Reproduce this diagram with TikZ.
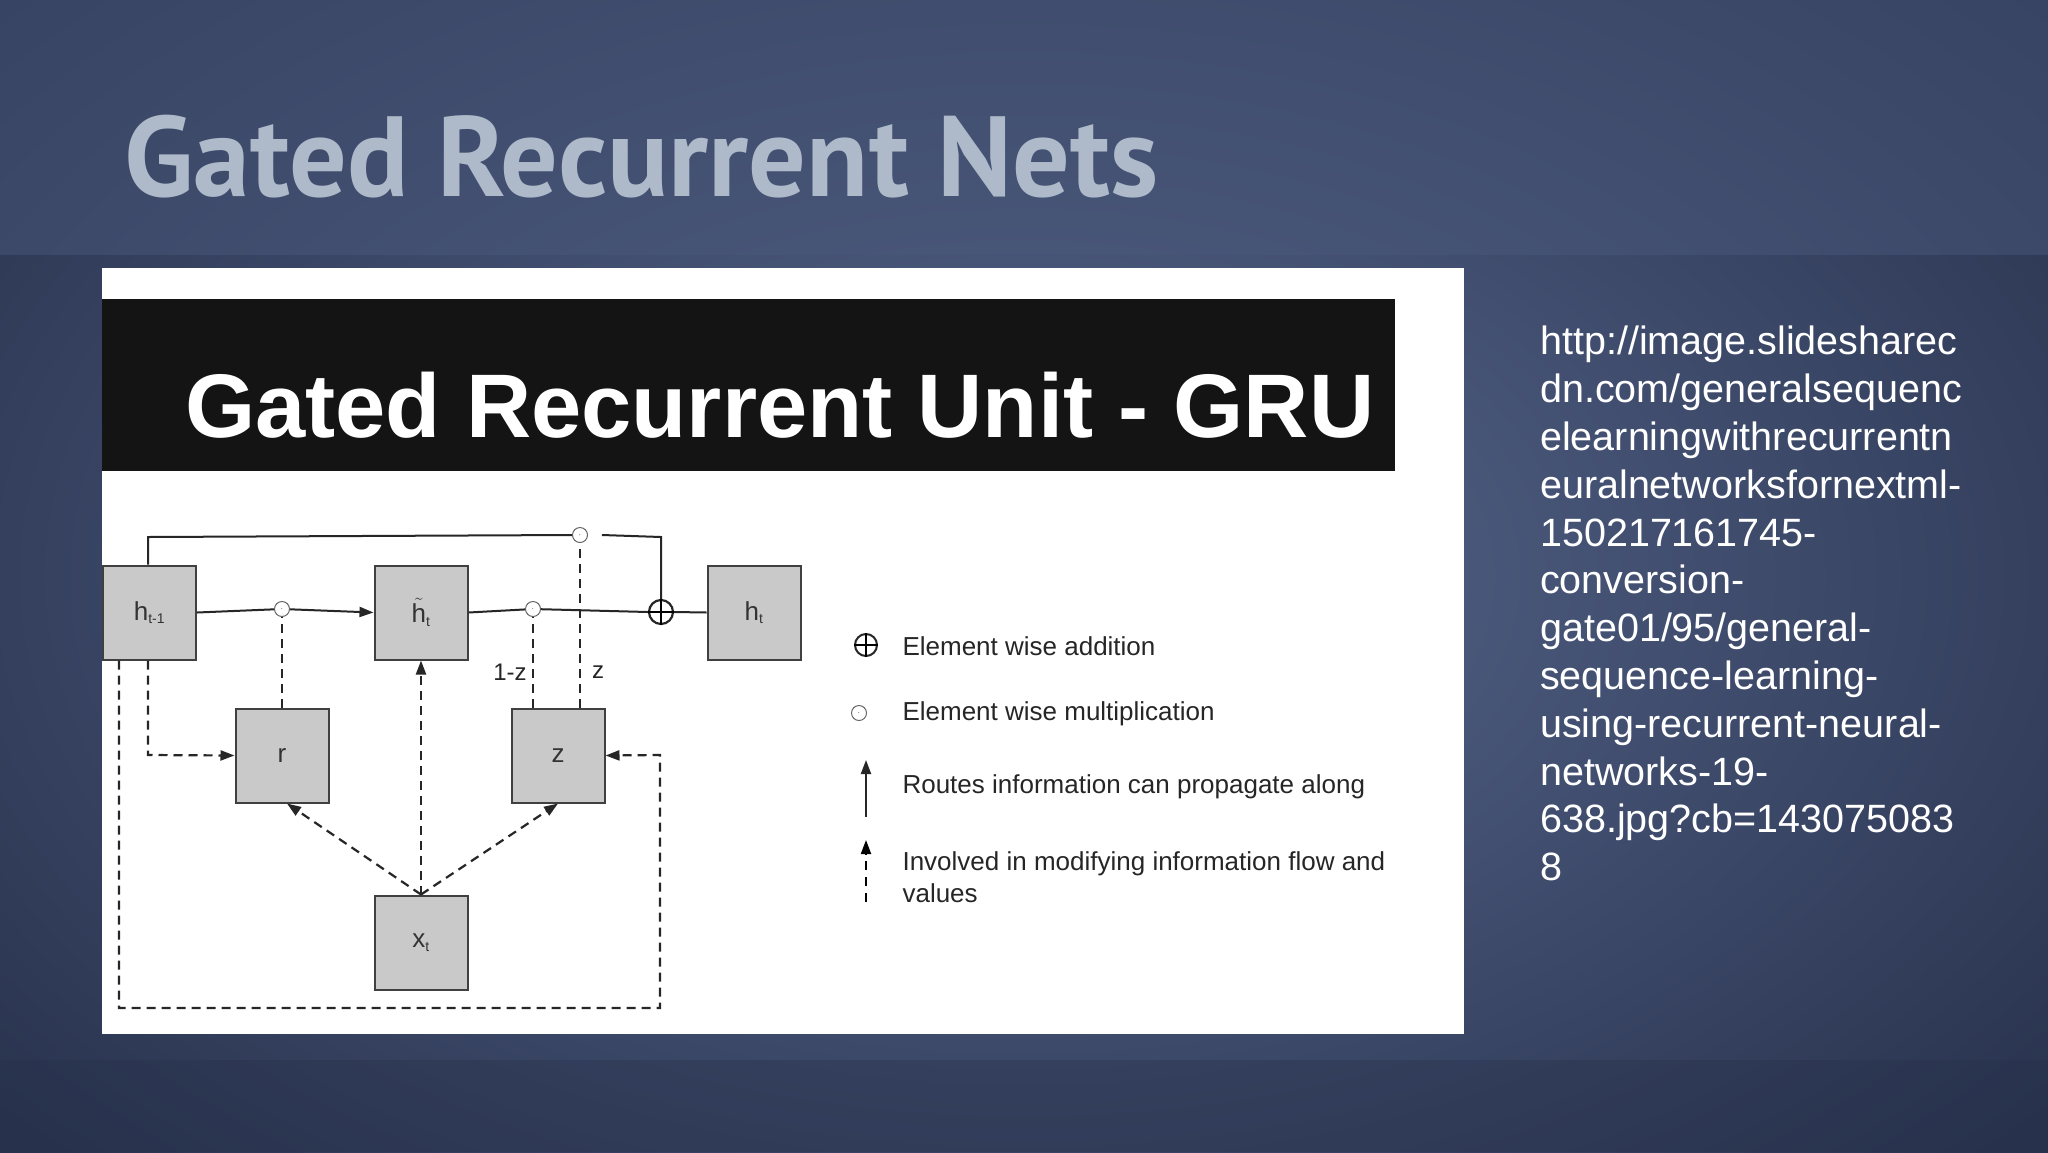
\documentclass[tikz,border=0pt]{standalone}
\usepackage{fontspec}
\setmainfont{Liberation Sans}
\newfontfamily\titlefont{PT Sans}
\usetikzlibrary{arrows.meta}
\definecolor{bgmid}{HTML}{58688F}
\definecolor{bgdark}{HTML}{26304A}
\definecolor{titlec}{HTML}{AEB9C9}
\definecolor{boxc}{HTML}{C9C9C9}
\tikzset{
  box/.style={draw=black!75, fill=boxc, line width=2pt, minimum width=93pt, minimum height=94pt, inner sep=0pt, font=\fontsize{26}{28}\selectfont, text=black!80},
  sol/.style={line width=2pt, draw=black!85},
  dsh/.style={line width=2.2pt, draw=black!85, dash pattern=on 9pt off 6pt},
  arr/.style={-{Triangle[length=14pt,width=10pt]}},
  odotn/.style={circle, draw=black!60, line width=1pt, minimum size=15pt, inner sep=0pt, font=\fontsize{9}{9}\selectfont},
  leg/.style={anchor=west, font=\fontsize{26}{32}\selectfont, text=black!85, align=left},
  lab/.style={font=\fontsize{24}{26}\selectfont, text=black!85},
}
\newcommand{\subtx}[1]{\textsubscript{\fontsize{14}{14}\selectfont #1}}
\begin{document}
\begin{tikzpicture}[x=1pt,y=-1pt]
\useasboundingbox (0,0) rectangle (2048,1152);
\shade[inner color=bgmid, outer color=bgdark] (-400,-300) rectangle (2448,1452);
\fill[bgmid!70!bgdark, opacity=0.5] (0,0) rectangle (2048,255);
\fill[bgdark, opacity=0.35] (0,1060) rectangle (2048,1152);
\node[anchor=base west, inner sep=0, text=titlec] (title) at (124,196)
  {\resizebox{1034pt}{!}{\titlefont\bfseries\fontsize{108}{108}\selectfont Gated Recurrent Nets}};
\fill[white] (102,268) rectangle (1464,1034);
\fill[black!92] (102,299) rectangle (1395,471);
\node[anchor=base west, inner sep=0, text=white] (grutitle) at (185,437)
  {\resizebox{1189pt}{!}{\bfseries\fontsize{90}{90}\selectfont Gated Recurrent Unit - GRU}};
% boxes
\node[box] (hp) at (149.5,612.5) {h\subtx{t-1}};
\node[box] (ht) at (421,612.5) {$\tilde{\mathrm{h}}$\subtx{t}};
\node[box] (hn) at (754,612.5) {h\subtx{t}};
\node[box] (r) at (282,755.5) {r};
\node[box] (z) at (558,755.5) {z};
\node[box] (x) at (421,942.5) {x\subtx{t}};
% operators
\node[odotn] (m1) at (282,609) {$\cdot$};
\node[odotn] (m2) at (533,609) {$\cdot$};
\node[odotn] (m3) at (580,535) {$\cdot$};
\node[circle, draw=black!85, line width=2.2pt, minimum size=24pt, inner sep=0pt] (add) at (661,612) {};
\draw[line width=2.2pt] (add.north) -- (add.south) (add.west) -- (add.east);
% solid lines
\draw[sol] (hp.east) -- (m1);
\draw[sol,arr] (m1) -- (ht.west);
\draw[sol] (ht.east) -- (m2);
\draw[sol] (m2) -- (add.west);
\draw[sol] (add.east) -- (hn.west);
\coordinate (c1) at (148,537);
\draw[sol] (hp.north -| c1) -- (c1) -- (m3.west);
\coordinate (c2) at (661,537);
\draw[sol] ([xshift=14pt]m3.east) -- (c2) -- (add.north);
% dashed
\draw[dsh] (r.north) -- (m1);
\draw[dsh] (z.north -| m2) -- (m2);
\draw[dsh] (z.north -| m3) -- (m3);
\node[lab] (l1) at (510,672) {1-z};
\node[lab] (l2) at (598,672) {z};
\draw[dsh,arr] (x.north) -- (ht.south);
\draw[dsh,arr] (x.north) -- ([xshift=5pt]r.south);
\draw[dsh,arr] (x.north) -- (z.south);
\coordinate (c3) at (148,755);
\draw[dsh,arr] (hp.south -| c3) -- (c3) -- (r.west);
\coordinate (c4) at (119,1008);
\coordinate (c5) at (660,1008);
\coordinate (c6) at (660,755);
\draw[dsh,arr] (hp.south -| c4) -- (c4) -- (c5) -- (c6) -- (z.east);
% legend
\node[circle, draw=black!85, line width=2pt, minimum size=22pt, inner sep=0pt] (la) at (866,645) {};
\draw[line width=2pt] (la.north) -- (la.south) (la.west) -- (la.east);
\node[leg] (ta) at (899,646) {Element wise addition};
\node[odotn] (lm) at (859,713) {$\cdot$};
\node[leg] (tm) at (899,714) {Element wise multiplication};
\coordinate (s1) at (866,817);
\coordinate (s2) at (866,760);
\draw[sol,arr] (s1) -- (s2);
\node[leg] (tr) at (899,787) {Routes information can propagate along};
\coordinate (d1) at (866,902);
\coordinate (d2) at (866,840);
\draw[line width=2pt, dash pattern=on 9pt off 7pt, arr] (d1) -- (d2);
\node[leg] (ti) at (899,877) {Involved in modifying information flow and\\values};
% URL
\node[anchor=north west, align=left, text=white, font=\fontsize{39.5}{47.8}\selectfont, inner sep=0] (url) at (1540,326)
{http://image.slidesharec\\dn.com/generalsequenc\\elearningwithrecurrentn\\euralnetworksfornextml-\\150217161745-\\conversion-\\gate01/95/general-\\sequence-learning-\\using-recurrent-neural-\\networks-19-\\638.jpg?cb=143075083\\8};
\end{tikzpicture}
\end{document}
